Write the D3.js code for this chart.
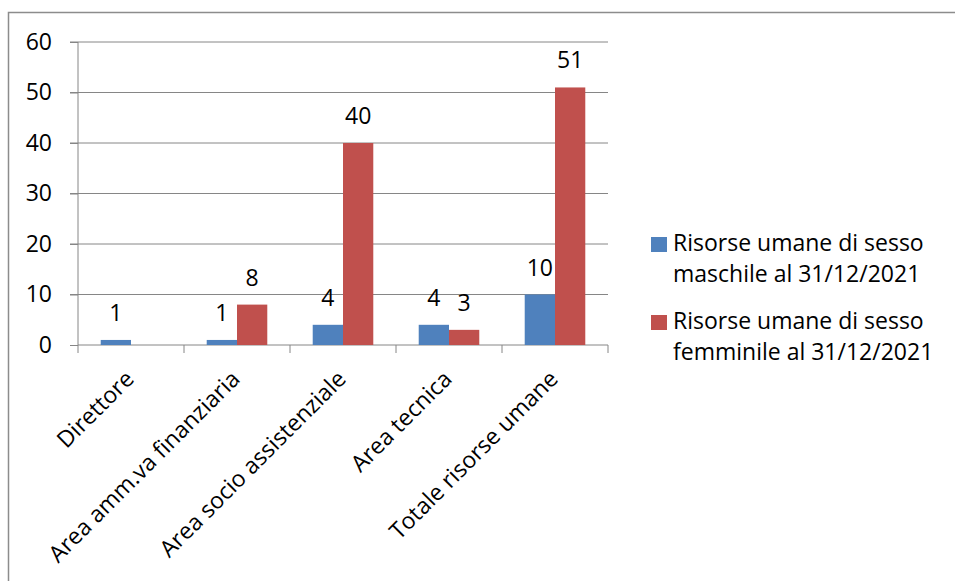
<!DOCTYPE html>
<html>
<head>
<meta charset="utf-8">
<script src="https://cdn.jsdelivr.net/npm/d3@7"></script>
<style>
	body { margin: 0; background: #fff; }
	text { font-family: "Open Sans", sans-serif; fill: #000; }
</style>
</head>
<body>
<svg width="955" height="581"></svg>
<script>
// dati
const categories = ["Direttore", "Area amm.va finanziaria", "Area socio assistenziale", "Area tecnica", "Totale risorse umane"];
const maschi = [1, 1, 4, 4, 10];
const femmine = [null, 8, 40, 3, 51];
const seriesNames = ["Risorse umane di sesso maschile al 31/12/2021", "Risorse umane di sesso femminile al 31/12/2021"];
const legendLines = [["Risorse umane di sesso", "maschile al 31/12/2021"], ["Risorse umane di sesso", "femminile al 31/12/2021"]];
const yTicks = [0, 10, 20, 30, 40, 50, 60];
const colors = ["#4F81BD", "#C0504D"];

const fontSize = "23px";

let svg = d3.select("svg");

// cornice del grafico
svg.append("rect")
	.attr("x", 8.5).attr("y", 12.5)
	.attr("width", 1000).attr("height", 1000)
	.attr("fill", "none")
	.attr("stroke", "#8c8c8c")
	.attr("stroke-width", 1.5);

const plot = { left: 78, right: 608, top: 42, bottom: 345 };

let x = d3.scaleBand()
	.domain(categories)
	.range([plot.left, plot.right]);

let y = d3.scaleLinear()
	.domain([0, 60])
	.range([plot.bottom, plot.top]);

// barre: larghezza gap 150%
const barW = x.bandwidth() / 3.5;
let xs = d3.scaleBand()
	.domain([0, 1])
	.range([x.bandwidth() / 2 - barW, x.bandwidth() / 2 + barW]);

let g = svg.append("g");

// griglia
g.selectAll("line.grid")
	.data(yTicks.filter(d => d > 0))
	.enter().append("line")
	.attr("x1", plot.left - 8).attr("x2", plot.right)
	.attr("y1", d => y(d)).attr("y2", d => y(d))
	.attr("stroke", "#868686")
	.attr("stroke-width", 1);

// asse y
let yAxis = g.append("g")
	.attr("transform", "translate(" + plot.left + ",0)")
	.call(d3.axisLeft(y).tickValues(yTicks).tickSize(8).tickPadding(18));
yAxis.select(".domain").attr("stroke", "#868686").attr("d", "M0," + plot.top + "V" + plot.bottom);
yAxis.selectAll(".tick line").attr("stroke", "#868686");
yAxis.selectAll(".tick text")
	.style("font-family", "'Open Sans', sans-serif")
	.style("font-size", fontSize)
	.attr("fill", "#000");

// asse x
let xAxis = g.append("g")
	.attr("transform", "translate(0," + plot.bottom + ")")
	.call(d3.axisBottom(x).tickSize(0));
xAxis.select(".domain").attr("stroke", "#868686").attr("d", "M" + plot.left + ",0H" + plot.right);
xAxis.selectAll(".tick line").remove();
xAxis.selectAll(".tick text").remove();
const edges = categories.map(c => x(c)).concat([plot.right]);
xAxis.selectAll("line.cat")
	.data(edges)
	.enter().append("line")
	.attr("x1", d => d).attr("x2", d => d)
	.attr("y1", 0).attr("y2", 8)
	.attr("stroke", "#868686");

svg.append("g").selectAll("text")
	.data(categories)
	.enter().append("text")
	.attr("transform", d => "translate(" + (x(d) + x.bandwidth() / 2 - 7) + "," + (plot.bottom + 24) + ") rotate(-45)")
	.attr("text-anchor", "end")
	.attr("dy", "0.7em")
	.style("font-size", fontSize)
	.text(d => d);

// barre
const series = [maschi, femmine];
series.forEach((vals, s) => {
	let bars = g.append("g").selectAll("rect")
		.data(categories.map((c, i) => ({ c: c, v: vals[i] })).filter(d => d.v != null))
		.enter();
	bars.append("rect")
		.attr("x", d => x(d.c) + xs(s))
		.attr("y", d => y(d.v))
		.attr("width", xs.bandwidth())
		.attr("height", d => y(0) - y(d.v))
		.attr("fill", colors[s]);
	bars.append("text")
		.attr("x", d => x(d.c) + xs(s) + xs.bandwidth() / 2)
		.attr("y", d => y(d.v) - 19)
		.attr("text-anchor", "middle")
		.style("font-size", fontSize)
		.text(d => d.v);
});

// legenda
let legend = svg.append("g");
legendLines.forEach((lines, i) => {
	let ly = 237 + i * 78;
	legend.append("rect")
		.attr("x", 651).attr("y", ly)
		.attr("width", 16).attr("height", 15)
		.attr("fill", colors[i]);
	lines.forEach((t, j) => {
		legend.append("text")
			.attr("x", 673)
			.attr("y", ly + 14 + j * 31)
			.style("font-size", fontSize)
			.text(t);
	});
});
</script>
</body>
</html>
